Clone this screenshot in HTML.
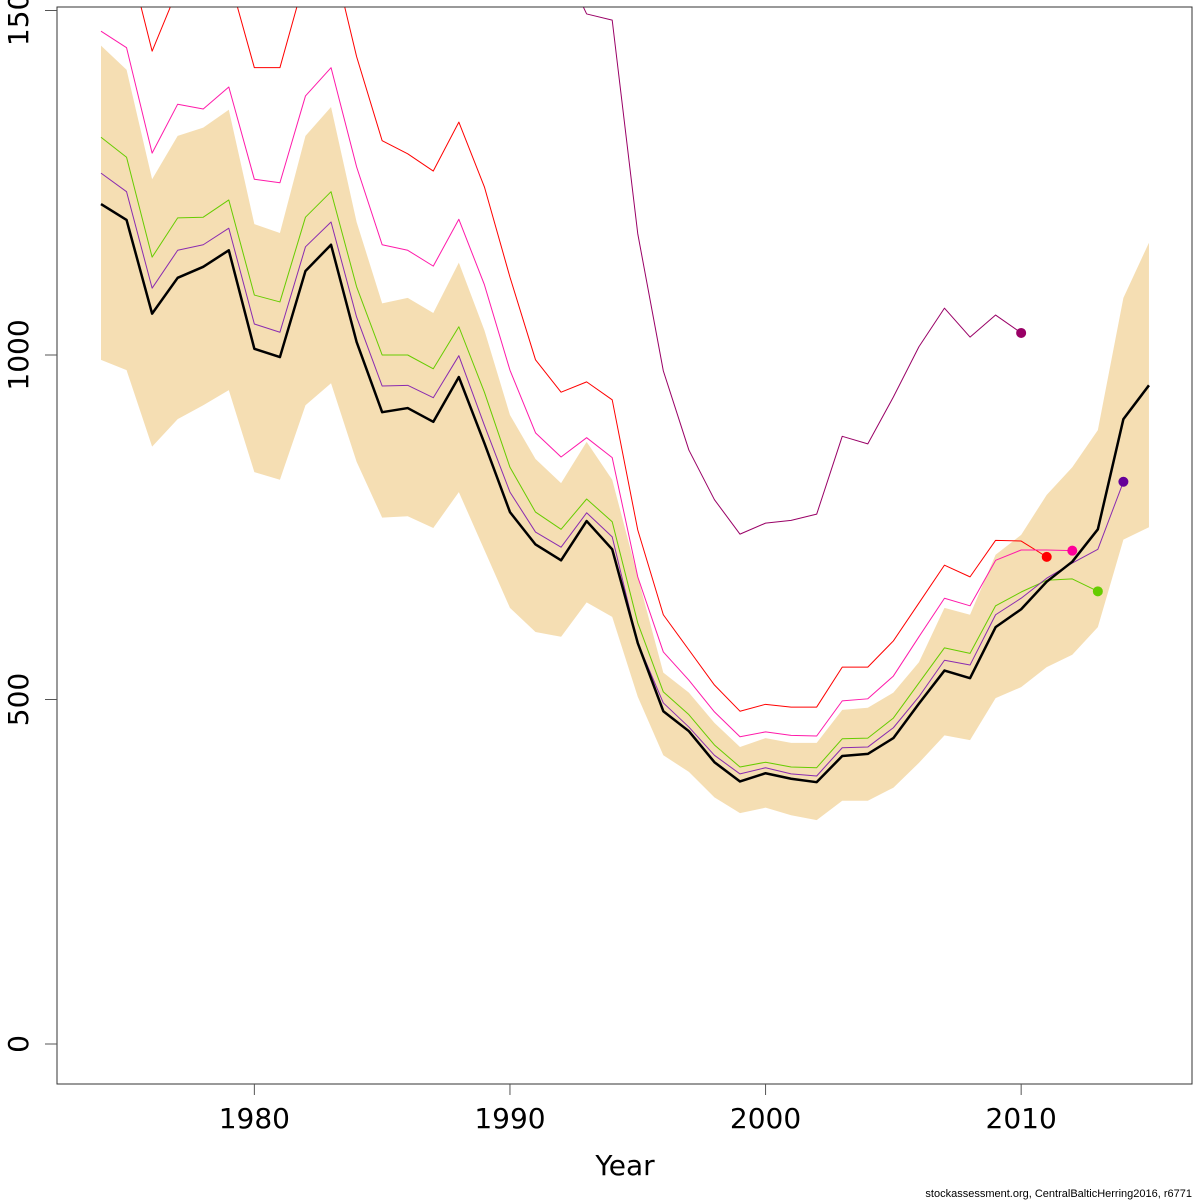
<!DOCTYPE html>
<html><head><meta charset="utf-8"><style>
html,body{margin:0;padding:0;background:#fff;}
svg{display:block;font-family:"DejaVu Sans","Liberation Sans",sans-serif;}
</style></head><body>
<svg id="chart" width="1200" height="1200" xmlns="http://www.w3.org/2000/svg">
<defs><clipPath id="plotclip"><rect x="57" y="7" width="1135" height="1077"/></clipPath></defs>
<g id="plot" clip-path="url(#plotclip)"></g>
<rect x="57" y="7" width="1135" height="1077" fill="none" stroke="#333" stroke-width="1"/>
<g id="axes"></g>
<text x="625" y="1175" font-size="28" text-anchor="middle">Year</text>
<text x="1192" y="1197" font-size="11" text-anchor="end" style="font-family:'Liberation Sans',sans-serif">stockassessment.org, CentralBalticHerring2016, r6771</text>
</svg>
<script>
const years = [];
for (let y = 1974; y <= 2015; y++) years.push(y);
const ssb = [1219,1196,1060,1112,1128,1152,1009,997,1122,1160,1019,917,923,903,968,872,772,725,702,759,718,582,483,454,409,381,393,385,380,418,421,444,494,542,531,605,631,671,700,747,907,956];
const bandUpper = [1449,1414,1255,1318,1330,1356,1190,1177,1318,1360,1193,1075,1083,1061,1134,1036,913,849,814,874,819,678,539,510,466,431,444,437,437,485,488,510,554,633,623,710,739,797,837,891,1083,1163];
const bandLower = [993,978,867,907,927,949,830,819,927,959,845,764,766,749,801,717,633,598,591,641,620,504,419,395,358,335,343,332,325,353,353,372,408,448,441,502,518,547,565,605,732,750];
const retro2014 = [1264,1237,1097,1152,1160,1184,1045,1033,1157,1193,1055,955,956,938,999,898,801,743,721,771,736,582,495,460,419,392,401,392,389,430,431,459,504,557,550,623,647,676,698,718,816];
const retro2013 = [1316,1287,1142,1199,1200,1225,1087,1077,1200,1237,1099,1000,1000,980,1041,946,837,772,747,791,758,611,511,478,434,402,409,402,401,443,444,473,524,575,567,636,656,673,675,657];
const retro2012 = [1470,1446,1293,1364,1357,1389,1255,1250,1376,1417,1273,1160,1152,1129,1197,1102,978,887,852,880,851,678,569,528,482,446,453,448,447,498,501,534,591,647,636,702,717,717,716];
const retro2011 = [1660,1589,1441,1531,1573,1550,1417,1417,1550,1588,1433,1311,1292,1267,1338,1244,1113,993,946,961,935,746,623,572,521,483,493,489,489,547,547,585,640,695,678,731,730,707];
const retro2010 = [1573,1495,1486,1176,977,862,790,740,756,760,769,882,871,939,1012,1068,1026,1058,1032];
const retro2010Start = 1992;
const yTicks = [0,500,1000,1500];
const xTicks = [1980,1990,2000,2010];

const NS = "http://www.w3.org/2000/svg";
function xs(yr){ return 101 + (yr - 1974) * 25.56; }
function ys(v){ return 1044 - v * 0.689; }
const plot = document.getElementById('plot');
const axes = document.getElementById('axes');

let pts = [];
years.forEach((yr,i)=>pts.push(xs(yr)+','+ys(bandUpper[i])));
for (let i = years.length-1; i >= 0; i--) pts.push(xs(years[i])+','+ys(bandLower[i]));
const band = document.createElementNS(NS,'polygon');
band.setAttribute('points', pts.join(' '));
band.setAttribute('fill', '#F5DEB3');


plot.appendChild(band);

function series(vals, start, color, width, name, dotName, dotColor){
  const p = vals.map((v,i)=>xs(start+i)+','+ys(v)).join(' ');
  const pl = document.createElementNS(NS,'polyline');
  pl.setAttribute('points', p);
  pl.setAttribute('fill','none');
  pl.setAttribute('stroke', color);
  pl.setAttribute('stroke-width', width);
  pl.setAttribute('stroke-linejoin','round');
  
  
  plot.appendChild(pl);
  if (dotName){
    const n = vals.length-1;
    const c = document.createElementNS(NS,'circle');
    c.setAttribute('cx', xs(start+n));
    c.setAttribute('cy', ys(vals[n]));
    c.setAttribute('r', 5);
    c.setAttribute('fill', dotColor);
    
    
    plot.appendChild(c);
  }
}
series(retro2010, retro2010Start, '#990066', 1, 'retro-2010-line', 'retro-2010-endpoint', '#990066');
series(retro2011, 1974, '#FF0000', 1, 'retro-2011-line', 'retro-2011-endpoint', '#FF0000');
series(retro2012, 1974, '#FF1AAA', 1, 'retro-2012-line', 'retro-2012-endpoint', '#FF0099');
series(retro2013, 1974, '#66CC00', 1, 'retro-2013-line', 'retro-2013-endpoint', '#66CC00');
series(retro2014, 1974, '#8A2BB0', 1, 'retro-2014-line', 'retro-2014-endpoint', '#660099');
series(ssb, 1974, '#000000', 2.5, 'ssb-estimate-line');

yTicks.forEach(v=>{
  const t = document.createElementNS(NS,'line');
  t.setAttribute('x1',45); t.setAttribute('x2',57);
  t.setAttribute('y1',ys(v)); t.setAttribute('y2',ys(v));
  t.setAttribute('stroke','#555');
  
  
  axes.appendChild(t);
  const l = document.createElementNS(NS,'text');
  l.setAttribute('transform','translate(28,'+ys(v)+') rotate(-90)');
  l.setAttribute('text-anchor','middle');
  l.setAttribute('font-size','28');
  l.textContent = v;
  
  
  axes.appendChild(l);
});
xTicks.forEach(v=>{
  const t = document.createElementNS(NS,'line');
  t.setAttribute('x1',xs(v)); t.setAttribute('x2',xs(v));
  t.setAttribute('y1',1084); t.setAttribute('y2',1095);
  t.setAttribute('stroke','#555');
  
  
  axes.appendChild(t);
  const l = document.createElementNS(NS,'text');
  l.setAttribute('x',xs(v)); l.setAttribute('y',1128);
  l.setAttribute('text-anchor','middle');
  l.setAttribute('font-size','28');
  l.textContent = v;
  
  
  axes.appendChild(l);
});
</script>
</body></html>
